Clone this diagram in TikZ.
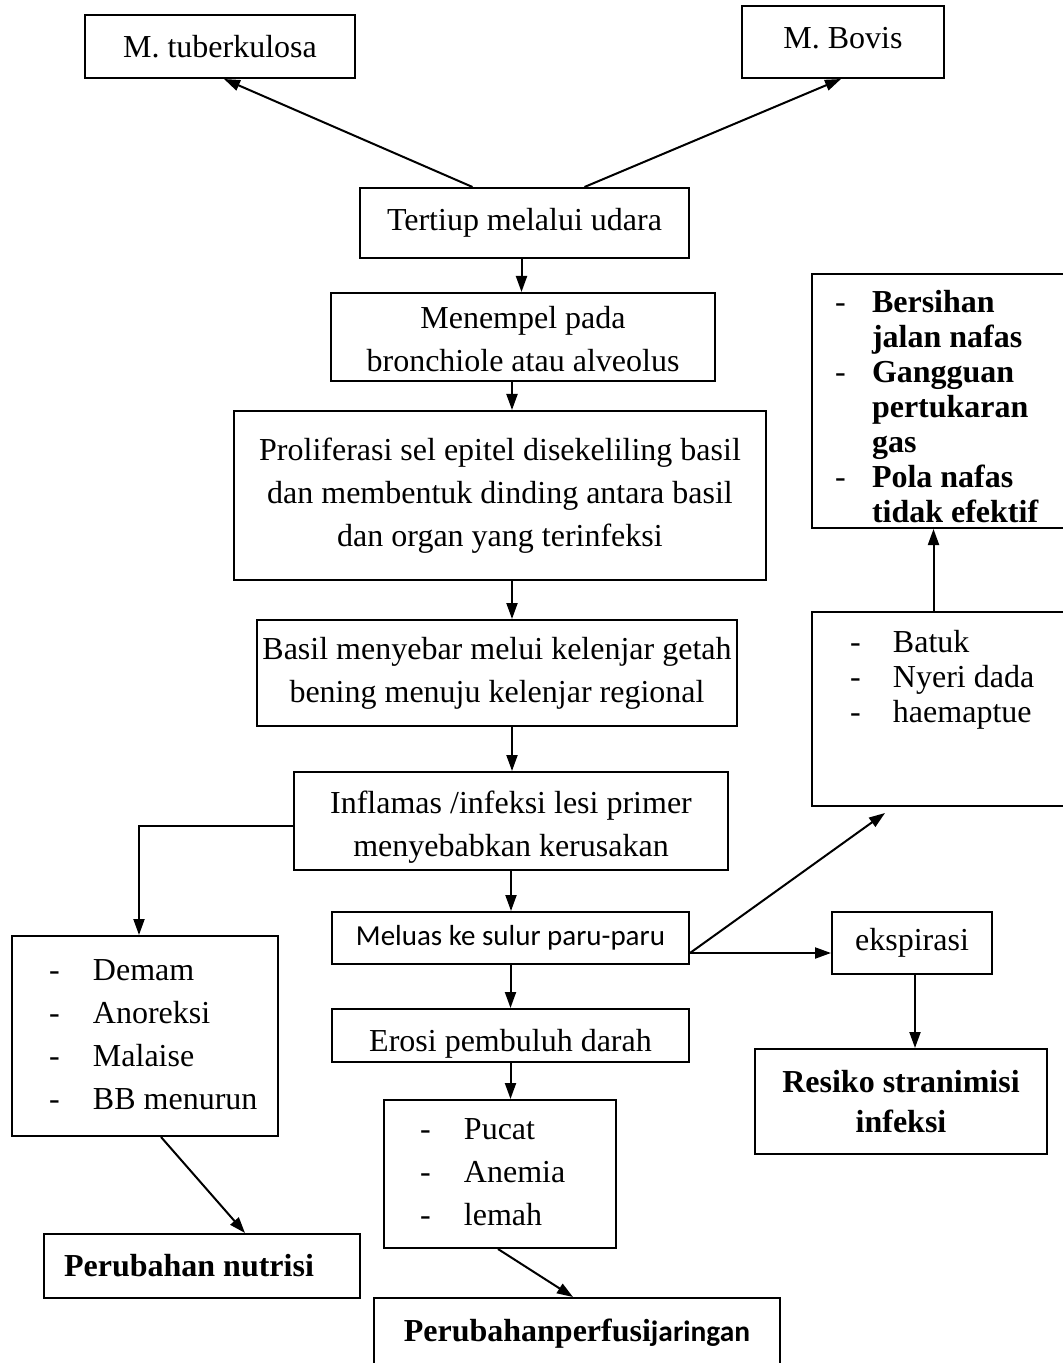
\documentclass[tikz,border=0pt]{standalone}
\usepackage{fontspec}
\setmainfont{Liberation Serif}
\newfontfamily\calibri{Carlito}
\usetikzlibrary{arrows.meta}
\newcommand{\plainspaces}{\spaceskip=0pt\xspaceskip=0pt\relax}

\begin{document}
\begin{tikzpicture}[x=0.5pt, y=-0.5pt, line width=1pt,
  >={Triangle[length=8pt,width=5.5pt]},
  box/.style={draw, align=center, inner sep=0pt, font=\fontsize{16}{21.5}\selectfont},
  listbox/.style={box, align=left}]
  \clip (0,0) rectangle (1063,1363);
  \node[box, minimum width=135pt, minimum height=31.5pt] (tub) at (220,46.5) {M. tuberkulosa};
  \node[box, minimum width=101pt, minimum height=36pt] (bov) at (843,42) {\raisebox{4pt}{M. Bovis}};
  \node[box, minimum width=164.5pt, minimum height=35pt] (ter) at (524.5,223) {Tertiup melalui udara};
  \node[box, minimum width=192pt, minimum height=44pt] (men) at (523,337)
    {\raisebox{-2pt}[\height][\depth]{\begin{tabular}{@{}c@{}}Menempel pada\\bronchiole atau alveolus\end{tabular}}};
  \node[box, minimum width=266pt, minimum height=84.5pt] (pro) at (500,495.5)
    {Proliferasi sel epitel disekeliling basil\\dan membentuk dinding antara basil\\dan organ yang terinfeksi};
  \node[box, minimum width=240pt, minimum height=53pt] (bas) at (497,673)
    {Basil menyebar melui kelenjar getah\\bening menuju kelenjar regional};
  \node[box, minimum width=217pt, minimum height=49pt] (inf) at (511,821)
    {\raisebox{-2.5pt}[\height][\depth]{\begin{tabular}{@{}c@{}}Inflamas /infeksi lesi primer\\menyebabkan kerusakan\end{tabular}}};
  \node[box, minimum width=178.5pt, minimum height=26pt, font=\calibri\fontsize{14.5}{17}\selectfont] (mel) at (510.5,938)
    {Meluas ke sulur paru-paru};
  \node[box, minimum width=80pt, minimum height=31pt] (eks) at (912,943) {ekspirasi};
  \node[box, minimum width=178.5pt, minimum height=26.5pt] (ero) at (510.5,1035.5)
    {\raisebox{-4pt}[\height][\depth]{Erosi pembuluh darah}};
  \node[listbox, minimum height=100pt, inner xsep=18.5pt, text width=96pt] (dem) at (145,1036)
    {\plainspaces\begin{tabular}{@{}p{22pt}@{}l@{}}
      -&Demam\\ -&Anoreksi\\ -&Malaise\\ -&BB menurun
    \end{tabular}};
  \node[box, minimum width=146pt, minimum height=52.5pt, font=\bfseries\fontsize{16}{20}\selectfont] (res) at (901,1101.5)
    {Resiko stranimisi\\infeksi};
  \node[listbox, minimum height=74pt, inner xsep=18pt, text width=80pt] (puc) at (500,1174)
    {\plainspaces\begin{tabular}{@{}p{22pt}@{}l@{}}
      -&Pucat\\ -&Anemia\\ -&lemah
    \end{tabular}};
  \node[box, minimum width=158pt, minimum height=32pt, font=\bfseries\fontsize{16}{20}\selectfont] (nut) at (202,1266)
    {Perubahan nutrisi\hspace*{13pt}};
  \node[box, minimum width=203pt, minimum height=45pt, font=\bfseries\fontsize{16}{20}\selectfont] (per) at (577,1343)
    {\raisebox{13pt}{Perubahanperfusi{\calibri\fontsize{14.7}{18}\selectfont jaringan}}};
  \node[listbox, minimum height=127pt, inner xsep=11.5pt, text width=108.5pt, font=\fontsize{16}{17.5}\selectfont] (ber) at (943.5,401)
    {\plainspaces\raisebox{-5pt}[\height][\depth]{\begin{tabular}{@{}p{18.5pt}@{}l@{}}
      -&\textbf{Bersihan}\\ &\textbf{jalan nafas}\\ -&\textbf{Gangguan}\\ &\textbf{pertukaran}\\
      &\textbf{gas}\\ -&\textbf{Pola nafas}\\ &\textbf{tidak efektif}
    \end{tabular}}};
  \node[listbox, minimum height=97pt, inner xsep=19pt, text width=93.5pt, font=\fontsize{16}{17.5}\selectfont] (bat) at (943.5,709)
    {\plainspaces\begin{tabular}{@{}p{21.5pt}@{}l@{}}
      -&Batuk\\ -&Nyeri dada\\ -&haemaptue\\[29pt]
    \end{tabular}};
  \coordinate (melout) at ([yshift=-7.5pt]mel.east);
  \coordinate (batin) at (885,813);
  \draw[->] ([xshift=-26pt]ter.north) -- ([xshift=2pt]tub.south);
  \draw[->] ([xshift=30pt]ter.north) -- ([xshift=-1pt]bov.south);
  \draw[->] ([xshift=-1.5pt]ter.south) -- ([xshift=-1.5pt]ter.south |- men.north);
  \draw[->] ([xshift=-5.5pt]men.south) -- ([xshift=-5.5pt]men.south |- pro.north);
  \draw[->] ([xshift=6pt]pro.south) -- ([xshift=6pt]pro.south |- bas.north);
  \draw[->] ([xshift=7.5pt]bas.south) -- ([xshift=7.5pt]bas.south |- inf.north);
  \draw[->] (inf.south) -- (inf.south |- mel.north);
  \draw[->] (mel.south) -- (mel.south |- ero.north);
  \draw[->] (ero.south) -- (ero.south |- puc.north);
  \draw[->] ([yshift=-2.5pt]inf.west) -| ([xshift=-3pt]dem.north);
  \draw[->] (melout) -- (melout -| eks.west);
  \draw[->] (melout) -- (batin);
  \draw[->] ([xshift=1.5pt]eks.south) -- ([xshift=1.5pt]eks.south |- res.north);
  \draw[->] ([xshift=-5pt]bat.north) -- ([xshift=-5pt]bat.north |- ber.south);
  \draw[->] ([xshift=8pt]dem.south) -- ([xshift=21.5pt]nut.north);
  \draw[->] ([xshift=-1pt]puc.south) -- ([xshift=-2pt]per.north);
\end{tikzpicture}
\end{document}
